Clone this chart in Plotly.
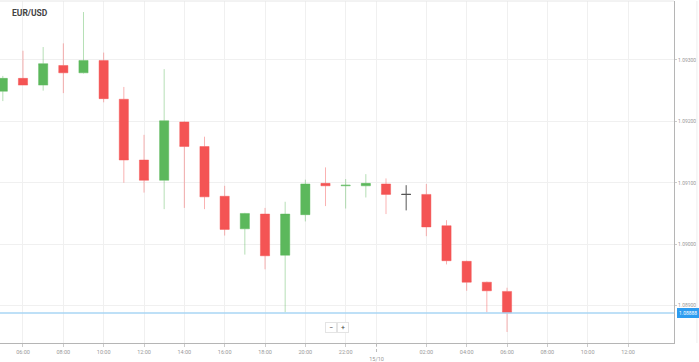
import plotly.graph_objects as go

# hours since 00:00 on 14/10 (15/10 00:00 == 24)
hours = [5, 6, 7, 8, 9, 10, 11, 12, 13, 14, 15, 16, 17, 18, 19, 20, 21, 22, 23, 24, 25, 26, 27, 28, 29, 30]
opens = [1.09249, 1.09270, 1.09259, 1.09291, 1.09279, 1.09299, 1.09236, 1.09137, 1.09104, 1.09199,
         1.09159, 1.09078, 1.09025, 1.09049, 1.08982, 1.09048, 1.09099, 1.09095, 1.09095, 1.09098,
         1.09081, 1.09081, 1.09030, 1.08972, 1.08938, 1.08923]
highs = [1.09274, 1.09315, 1.09321, 1.09327, 1.09378, 1.09312, 1.09256, 1.09178, 1.09285, 1.09200,
         1.09175, 1.09095, 1.09051, 1.09059, 1.09069, 1.09105, 1.09125, 1.09106, 1.09114, 1.09107,
         1.09096, 1.09098, 1.09039, 1.08973, 1.08939, 1.08929]
lows = [1.09233, 1.09259, 1.09250, 1.09246, 1.09278, 1.09231, 1.09100, 1.09084, 1.09057, 1.09059,
        1.09057, 1.09014, 1.08983, 1.08959, 1.08889, 1.09037, 1.09062, 1.09058, 1.09076, 1.09049,
        1.09055, 1.09013, 1.08967, 1.08924, 1.08889, 1.08857]
closes = [1.09270, 1.09259, 1.09294, 1.09279, 1.09299, 1.09237, 1.09137, 1.09104, 1.09201, 1.09159,
          1.09077, 1.09024, 1.09050, 1.08981, 1.09049, 1.09098, 1.09095, 1.09096, 1.09099, 1.09081,
          1.09081, 1.09028, 1.08973, 1.08938, 1.08924, 1.08888]

x_tick_vals = [6, 8, 10, 12, 14, 16, 18, 20, 22, 23.53, 26, 28, 30, 32, 34, 36]
x_tick_text = ["06:00", "08:00", "10:00", "12:00", "14:00", "16:00", "18:00", "20:00", "22:00",
               "<br>15/10", "02:00", "04:00", "06:00", "08:00", "10:00", "12:00"]
y_tick_vals = [1.08900, 1.09000, 1.09100, 1.09200, 1.09300]
y_tick_text = ["1.08900", "1.09000", "1.09100", "1.09200", "1.09300"]
current_price = 1.08888
day_break = 23.53
symbol = "EUR/USD"

# split: regular candles and the flat (open == close) candle drawn in black
reg = [i for i in range(len(hours)) if opens[i] != closes[i]]
flat = [i for i in range(len(hours)) if opens[i] == closes[i]]

RED = "#f45454"
GREEN = "#5cb85c"

fig = go.Figure()
fig.add_trace(go.Candlestick(
    x=[hours[i] for i in reg],
    open=[opens[i] for i in reg], high=[highs[i] for i in reg],
    low=[lows[i] for i in reg], close=[closes[i] for i in reg],
    increasing=dict(line=dict(color="rgba(92,184,92,0.45)", width=1), fillcolor=GREEN),
    decreasing=dict(line=dict(color="rgba(244,84,84,0.45)", width=1), fillcolor=RED),
    whiskerwidth=0, showlegend=False, hoverinfo="skip",
))
fig.add_trace(go.Candlestick(
    x=[hours[i] for i in flat],
    open=[opens[i] for i in flat], high=[highs[i] for i in flat],
    low=[lows[i] for i in flat], close=[closes[i] for i in flat],
    increasing=dict(line=dict(color="#555555", width=1), fillcolor="#555555"),
    decreasing=dict(line=dict(color="#555555", width=1), fillcolor="#555555"),
    whiskerwidth=0, showlegend=False, hoverinfo="skip",
))

# day separator
fig.add_shape(type="line", xref="x", yref="paper", x0=day_break, x1=day_break, y0=0, y1=1,
              line=dict(color="#d0d0d0", width=1), layer="below")
fig.add_shape(type="line", xref="x", yref="paper", x0=day_break, x1=day_break, y0=0, y1=-0.03,
              line=dict(color="#bbbbbb", width=1, dash="dot"))
# current price line
fig.add_shape(type="line", xref="paper", yref="y", x0=0, x1=1, y0=current_price, y1=current_price,
              line=dict(color="#a9d6f5", width=1.5))
# top frame line and far right line
fig.add_shape(type="line", xref="paper", yref="paper", x0=0, x1=1, y0=1, y1=1,
              line=dict(color="#e6e6e6", width=1))
fig.add_shape(type="line", xref="paper", yref="paper", x0=1.034, x1=1.034, y0=0, y1=1,
              line=dict(color="#eeeeee", width=1))

fig.add_annotation(xref="paper", yref="y", x=1.004, y=current_price, xanchor="left", yanchor="middle",
                   text=f"{current_price:.5f}", showarrow=False,
                   font=dict(size=5, color="white", family="Roboto"),
                   bgcolor="#2d9cf0", bordercolor="#2d9cf0", borderpad=1)
fig.add_annotation(xref="paper", yref="paper", x=0.0145, y=0.965, xanchor="left", yanchor="middle",
                   text=f"<b>{symbol}</b>", showarrow=False,
                   font=dict(size=8.5, color="#444444", family="Roboto"))
# zoom buttons
fig.add_annotation(xref="paper", yref="paper", x=0.4915, y=0.03, text="−", showarrow=False,
                   font=dict(size=7, color="#444", family="Roboto"), bgcolor="white",
                   bordercolor="#e4e4e4", borderpad=0, width=10, height=9)
fig.add_annotation(xref="paper", yref="paper", x=0.5095, y=0.03, text="+", showarrow=False,
                   font=dict(size=7, color="#444", family="Roboto"), bgcolor="white",
                   bordercolor="#e4e4e4", borderpad=0, width=10, height=9)

fig.update_layout(
    width=699, height=362,
    margin=dict(l=0, r=25, t=1, b=19),
    paper_bgcolor="white", plot_bgcolor="white",
    font=dict(family="Roboto", size=5, color="#999999"),
    boxgap=0.35,
    xaxis=dict(range=[4.86, 38.28], tickvals=x_tick_vals, ticktext=x_tick_text,
               showgrid=True, gridcolor="#f0f0f0", gridwidth=1,
               showline=True, linecolor="#b5b5b5", linewidth=1,
               ticks="outside", ticklen=3, tickcolor="#cccccc",
               tickfont=dict(size=5.5, color="#999999"),
               rangeslider=dict(visible=False), zeroline=False, fixedrange=True),
    yaxis=dict(range=[1.08839, 1.09396], side="right", tickvals=y_tick_vals, ticktext=y_tick_text,
               showgrid=True, gridcolor="#f0f0f0", gridwidth=1,
               showline=True, linecolor="#b5b5b5", linewidth=1,
               ticks="outside", ticklen=2, tickcolor="#cccccc",
               tickfont=dict(size=5, color="#999999"), zeroline=False, fixedrange=True),
)

fig.write_html("out.html", config={"displayModeBar": False},
               post_script="document.body.style.margin='0';document.body.style.overflow='hidden';")
